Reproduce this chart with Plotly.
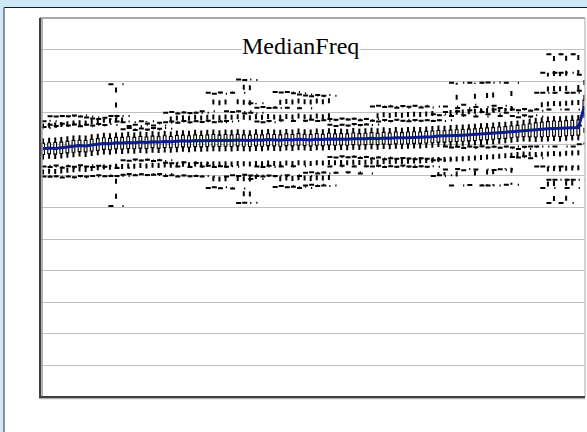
import plotly.graph_objects as go

# ---- data -------------------------------------------------------------
median = [7.86,7.88,7.87,7.90,7.92,7.94,7.96,7.95,7.98,8.00,
          8.03,8.02,8.05,8.04,8.06,8.05,8.07,8.06,8.08,8.07,
          8.09,8.08,8.10,8.11,8.10,8.12,8.11,8.12,8.13,8.12,
          8.13,8.12,8.14,8.13,8.12,8.14,8.13,8.15,8.14,8.13,
          8.15,8.14,8.16,8.15,8.14,8.16,8.15,8.17,8.16,8.17,
          8.16,8.18,8.17,8.18,8.19,8.18,8.20,8.19,8.21,8.20,
          8.21,8.22,8.22,8.23,8.24,8.26,8.26,8.27,8.28,8.29,
          8.30,8.31,8.33,8.34,8.35,8.37,8.38,8.40,8.42,8.44,
          8.46,8.47,8.48,8.49,8.50,8.50,8.51,8.52,8.53,9.20]

q3 = [8.03,8.05,8.06,8.07,8.10,8.12,8.13,8.12,8.16,8.18,
      8.21,8.19,8.22,8.22,8.24,8.22,8.25,8.23,8.26,8.24,
      8.27,8.25,8.28,8.29,8.27,8.30,8.28,8.30,8.31,8.29,
      8.31,8.30,8.32,8.30,8.29,8.32,8.30,8.33,8.31,8.30,
      8.33,8.31,8.34,8.32,8.31,8.34,8.32,8.35,8.33,8.34,
      8.33,8.36,8.34,8.35,8.37,8.35,8.38,8.36,8.39,8.37,
      8.39,8.40,8.39,8.41,8.42,8.44,8.43,8.45,8.46,8.47,
      8.48,8.49,8.51,8.52,8.53,8.55,8.56,8.58,8.60,8.62,
      8.65,8.68,8.70,8.72,8.74,8.73,8.75,8.76,8.77,9.40]

q1 = [7.68,7.70,7.69,7.71,7.73,7.75,7.77,7.76,7.79,7.81,
      7.84,7.83,7.86,7.85,7.87,7.86,7.88,7.87,7.89,7.88,
      7.90,7.89,7.91,7.92,7.91,7.93,7.92,7.93,7.94,7.93,
      7.94,7.93,7.95,7.94,7.93,7.95,7.94,7.96,7.95,7.94,
      7.96,7.95,7.97,7.96,7.95,7.97,7.96,7.98,7.97,7.98,
      7.97,7.99,7.98,7.99,8.00,7.99,8.01,8.00,8.02,8.01,
      8.02,8.03,8.03,8.04,8.05,8.07,8.07,8.08,8.09,8.10,
      8.11,8.12,8.14,8.15,8.16,8.18,8.19,8.21,8.23,8.25,
      8.24,8.23,8.24,8.25,8.26,8.25,8.27,8.28,8.29,9.00]

hi1 = [8.52,8.55,8.62,8.58,8.65,8.60,8.63,8.57,8.62,8.60,
       8.64,8.61,8.90,8.72,8.48,8.52,8.45,8.50,8.47,8.52,
       8.49,8.70,8.72,8.68,8.74,8.70,8.73,8.71,8.75,8.70,
       8.72,8.74,9.02,9.05,8.98,9.00,8.72,8.70,8.74,9.16,
       8.76,9.16,8.74,9.14,8.75,8.78,8.74,8.76,8.62,8.58,
       8.62,8.60,8.64,8.61,8.63,8.75,8.72,8.77,8.74,8.78,
       8.75,8.73,8.77,8.75,8.76,8.74,8.76,9.02,8.90,9.05,
       8.92,9.08,8.88,9.02,8.95,9.10,8.90,9.00,8.90,8.86,
       8.92,8.88,9.10,9.63,9.10,9.63,10.27,9.10,9.63,9.70]

hi2 = [8.75,8.73,8.89,8.88,8.90,8.89,8.91,8.88,8.85,8.82,
       8.80,8.84,9.90,8.90,8.70,8.58,8.62,8.73,8.66,8.60,
       8.68,9.00,9.02,8.98,9.01,8.99,9.00,9.05,9.63,9.60,
       9.64,9.05,9.63,10.05,10.04,9.30,9.16,9.18,9.15,9.66,
       9.64,9.66,9.62,9.58,9.55,9.52,9.56,9.54,8.80,8.78,
       8.82,8.79,8.81,8.76,8.80,9.20,9.22,9.18,9.20,9.16,
       9.21,9.19,9.22,9.17,9.20,8.95,8.92,9.20,9.95,9.15,
       9.25,9.95,9.18,9.95,9.96,9.22,9.15,9.95,9.10,9.08,
       9.12,9.06,9.63,10.27,10.85,10.27,10.85,9.63,10.85,10.20]

lo1 = [7.32,7.30,7.28,7.33,7.26,7.31,7.29,7.34,7.30,7.28,
       7.32,7.29,7.00,7.25,7.50,7.48,7.52,7.49,7.51,7.47,
       7.50,7.42,7.40,7.30,7.43,7.28,7.41,7.30,7.32,7.28,
       7.31,7.29,7.02,7.00,7.04,7.01,7.30,7.28,7.32,7.00,
       7.30,7.02,7.31,7.00,7.10,7.12,7.08,7.11,7.60,7.58,
       7.62,7.59,7.61,7.57,7.60,7.55,7.58,7.53,7.56,7.54,
       7.57,7.55,7.53,7.56,7.54,7.50,7.52,7.93,7.90,7.92,
       7.88,7.93,7.91,7.94,7.90,7.92,7.89,7.93,7.90,7.85,
       7.92,7.93,7.93,7.30,6.88,7.93,7.30,6.88,7.93,8.60]

lo2 = [7.00,6.98,6.97,6.99,6.95,6.98,6.96,7.00,6.98,7.00,
       7.02,6.99,6.05,7.00,7.04,7.06,7.02,7.05,7.03,7.04,
       7.06,7.00,7.02,6.98,7.01,6.99,7.00,6.98,6.62,6.64,
       6.61,6.98,6.60,6.14,6.15,6.90,7.00,6.98,7.01,6.65,
       6.68,6.64,6.66,6.62,6.70,6.72,6.68,6.70,7.30,7.10,
       7.32,7.12,7.30,7.08,7.31,7.30,7.32,7.28,7.31,7.29,
       7.33,7.30,7.28,7.31,7.29,7.00,7.02,7.20,6.70,7.22,
       7.18,6.71,7.20,6.70,6.70,7.19,7.21,6.72,7.60,7.58,
       7.62,7.56,7.30,6.62,6.14,6.88,6.14,6.62,6.88,8.00]

title_text = "MedianFreq"

# ---- build ------------------------------------------------------------
N = len(median)
xs = list(range(N))
CAP = 1.25  # half width of whisker caps (x units)

wx, wy = [], []
for i in xs:
    wx += [i, i, None, i, i, None]
    wy += [q3[i], hi2[i], None, q1[i], lo2[i], None]

cx, cy = [], []
for series in (hi1, hi2, lo1, lo2):
    for i in xs:
        cx += [i - CAP, i + CAP, None]
        cy += [series[i], series[i], None]

fig = go.Figure()
fig.add_trace(go.Scatter(x=wx, y=wy, mode="lines", hoverinfo="skip",
                         line=dict(color="black", width=2, dash="5px,10px")))
fig.add_trace(go.Scatter(x=cx, y=cy, mode="lines", hoverinfo="skip",
                         line=dict(color="black", width=2, dash="5px,9px")))
fig.add_trace(go.Box(x=xs, q1=q1, median=median, q3=q3,
                     lowerfence=q1, upperfence=q3, width=0.45,
                     line=dict(color="black", width=1.1),
                     fillcolor="white", boxpoints=False, hoverinfo="skip"))
fig.add_trace(go.Scatter(x=xs, y=median, mode="lines",
                         line=dict(color="#0A1E8C", width=3)))

L, R, T, B = 40, 2, 18, 35
W, H = 587, 432
pw, ph = W - L - R, H - T - B

def px_x(p):
    return (p - L) / pw

def px_y(p):
    return (H - B - p) / ph

shapes = [
    dict(type="rect", xref="paper", yref="paper", x0=px_x(4), x1=1.2,
         y0=-0.3, y1=px_y(7), fillcolor="white", line=dict(width=0), layer="below"),
    dict(type="line", xref="paper", yref="paper", x0=px_x(4), x1=1.2,
         y0=px_y(7.5), y1=px_y(7.5), line=dict(color="#1a1a1a", width=1.2)),
    dict(type="line", xref="paper", yref="paper", x0=px_x(4), x1=px_x(4),
         y0=-0.3, y1=px_y(7.5), line=dict(color="#707070", width=1.5)),
    dict(type="line", xref="paper", yref="paper", x0=0, x1=1, y0=1, y1=1,
         line=dict(color="#a8a8a8", width=2)),
    dict(type="line", xref="paper", yref="paper", x0=1, x1=1, y0=0, y1=1,
         line=dict(color="#c4c4c4", width=1.5)),
    dict(type="line", xref="paper", yref="paper", x0=px_x(42), x1=px_x(42), y0=0, y1=1,
         line=dict(color="#9a9a9a", width=1.5)),
    dict(type="line", xref="paper", yref="paper", x0=0, x1=0, y0=px_y(398.5), y1=1,
         line=dict(color="#404040", width=2)),
    dict(type="line", xref="paper", yref="paper", x0=0, x1=1, y0=px_y(398.5), y1=px_y(398.5),
         line=dict(color="#b0b0b0", width=1.5)),
    dict(type="line", xref="paper", yref="paper", x0=0, x1=1, y0=0, y1=0,
         line=dict(color="#404040", width=2)),
]

fig.update_layout(
    width=W, height=H,
    margin=dict(l=L, r=R, t=T, b=B, pad=0),
    paper_bgcolor="#CFE9FA",
    plot_bgcolor="white",
    showlegend=False,
    shapes=shapes,
    xaxis=dict(range=[-0.5, N - 0.9], showgrid=False, zeroline=False,
               showticklabels=False, ticks="", showline=False, fixedrange=True),
    yaxis=dict(range=[0, 12], dtick=1, showgrid=True, gridcolor="#c0c0c0",
               gridwidth=1, zeroline=False, showticklabels=False, ticks="",
               showline=False, fixedrange=True),
    annotations=[dict(text=title_text, xref="paper", yref="paper",
                      x=px_x(300), y=px_y(46), xanchor="center", yanchor="middle",
                      showarrow=False, bgcolor="white", borderpad=0,
                      font=dict(family="Liberation Serif", size=24, color="black"))],
)

fig.write_html("out.html", config={"displayModeBar": False},
               post_script="document.body.style.margin='0';document.body.style.background='#CFE9FA';")
